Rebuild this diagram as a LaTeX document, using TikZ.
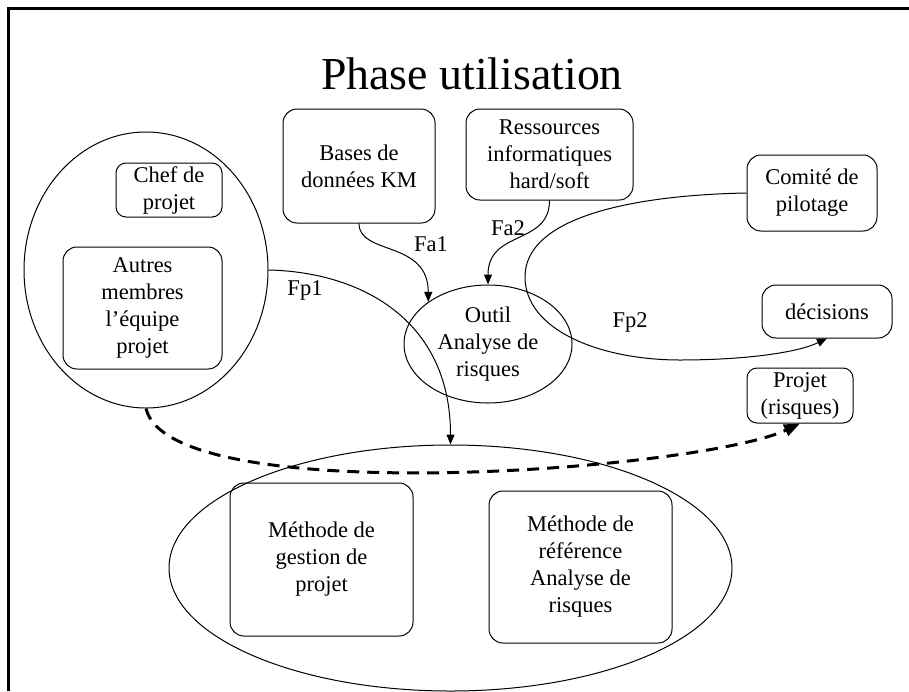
\documentclass[tikz,border=0pt]{standalone}
\usepackage{fontspec}
\setmainfont{Liberation Serif}
\usetikzlibrary{shapes.geometric, arrows.meta, positioning}

\begin{document}
\begin{tikzpicture}[
    x=0.5pt, y=-0.5pt,
    every node/.style={font=\fontsize{11.25}{13.5}\selectfont},
    box/.style={rectangle, rounded corners=7pt, draw, line width=0.5pt, align=center, inner sep=0pt},
    group/.style={ellipse, draw, line width=0.5pt, inner sep=0pt, align=center},
    flow/.style={-{Triangle[length=5pt, width=4pt]}, line width=0.5pt},
    feedback/.style={-{Triangle[length=8pt, width=6pt]}, line width=1.5pt, dash pattern=on 6pt off 4pt},
    lbl/.style={inner sep=0pt}
]

\useasboundingbox (0,0) rectangle (909,691);
\draw[line width=1.5pt] (8,691) -- (8,8) -- (909,8);

\node[font=\fontsize{22.9}{27}\selectfont, anchor=base] (titre) at (472,89) {Phase utilisation};

% ressources
\node[box, minimum width=76pt, minimum height=57pt] (bases) at (359,166) {Bases de\\données KM};
\node[box, minimum width=83.5pt, minimum height=45.5pt] (ressources) at (549.5,154.5) {Ressources\\informatiques\\hard/soft};

% equipe projet
\node[group, minimum width=122pt, minimum height=138pt] (equipe) at (146,270) {};
\node[box, rounded corners=5pt, minimum width=53pt, minimum height=27pt] (chef) at (169,190) {Chef de\\projet};
\node[box, minimum width=79.5pt, minimum height=61pt] (autres) at (142.5,308) {Autres\\membres\\l’équipe\\projet};

\node[group, minimum width=84pt, minimum height=59pt] (outil) at (488,344) {Outil\\Analyse de\\risques};

% pilotage
\node[box, minimum width=65pt, minimum height=38pt] (comite) at (812,193) {Comité de\\pilotage};
\node[box, minimum width=65pt, minimum height=26.5pt] (decisions) at (827,311.5) {décisions};
\node[box, rounded corners=5pt, minimum width=53pt, minimum height=27.5pt] (projet) at (800,395.5) {Projet\\(risques)};

% methodes
\node[group, minimum width=281.5pt, minimum height=123pt] (methodes) at (450.5,568) {};
\node[box, minimum width=91.5pt, minimum height=76.5pt] (gestion) at (321.5,559.5) {Méthode de\\gestion de\\projet};
\node[box, minimum width=91.5pt, minimum height=76pt] (reference) at (580.5,567) {Méthode de\\référence\\Analyse de\\risques};

\node[lbl] (fa1) at (431,244) {Fa1};
\node[lbl] (fa2) at (508,228) {Fa2};
\node[lbl] (fp1) at (305,290) {Fp1};
\node[lbl] (fp2) at (630,322) {Fp2};

\draw[flow] (bases.south) .. controls +(0,32) and +(0,-62) .. (outil.north west);
\draw[flow] (ressources.south) .. controls +(0,45) and +(0,-55) .. (outil.north);
\draw[flow] (equipe.east) .. controls +(92,2) and +(0,-125) .. (methodes.north);
\draw[flow] (comite.west) .. controls +(-107,2) and +(0,-62) .. (525,277)
    .. controls +(0,53) and +(-80,0) .. (680,360)
    .. controls +(60,0) and +(-32,15) .. (decisions.south);
\draw[feedback] (equipe.south) .. controls +(24,102) and +(-100,47) .. (projet.south);

\end{tikzpicture}
\end{document}
